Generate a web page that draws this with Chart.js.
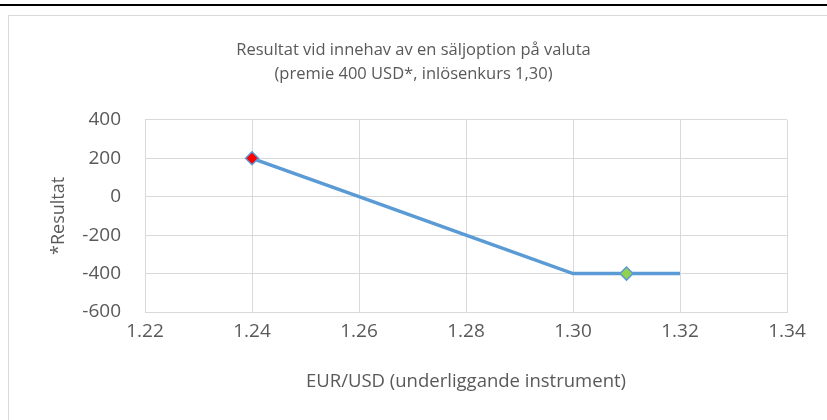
<!DOCTYPE html>
<html>
<head>
<meta charset="utf-8">
<script src="https://cdn.jsdelivr.net/npm/chart.js@4.4.1/dist/chart.umd.min.js"></script>
<style>
  html, body { margin: 0; padding: 0; background: #fff; width: 827px; height: 420px; overflow: hidden; }
  #topline { position: absolute; left: 0; top: 4px; width: 827px; height: 2px; background: #000; }
  #frame { position: absolute; left: 8px; top: 15px; width: 900px; height: 500px; border: 1px solid #d9d9d9; box-sizing: border-box; }
  #wrap { position: absolute; left: 0; top: 0; width: 827px; height: 420px; }
</style>
</head>
<body>
<div id="topline"></div>
<div id="frame"></div>
<div id="wrap"><canvas id="c" width="827" height="420"></canvas></div>
<script>
const titleLines = ["Resultat vid innehav av en säljoption på valuta", "(premie 400 USD*, inlösenkurs 1,30)"];
const xTitle = "EUR/USD (underliggande instrument)";
const yTitle = "*Resultat";
const rates = [1.24, 1.26, 1.28, 1.30, 1.31, 1.32];
const results = [200, 0, -200, -400, -400, -400];
const markerFill = ["#ff0000", null, null, null, "#92d050", null];

const FONT = "'Open Sans', Lato, sans-serif";
const TXT = "#595959";
const GRID = "#d9d9d9";

new Chart(document.getElementById('c'), {
  type: 'scatter',
  data: {
    datasets: [{
      data: rates.map((x, i) => ({x: x, y: results[i]})),
      showLine: true,
      borderColor: '#5b9bd5',
      borderWidth: 3.5,
      tension: 0,
      pointStyle: 'rectRot',
      pointRadius: markerFill.map(f => f ? 6.5 : 0),
      pointHoverRadius: markerFill.map(f => f ? 6.5 : 0),
      pointBackgroundColor: markerFill.map(f => f || '#5b9bd5'),
      pointBorderColor: '#5b9bd5',
      pointBorderWidth: 1.5
    }]
  },
  options: {
    responsive: false,
    animation: false,
    layout: { padding: { left: 8, right: 8, top: 10, bottom: 18 } },
    plugins: {
      legend: { display: false },
      tooltip: { enabled: false },
      title: {
        display: true,
        text: titleLines,
        color: TXT,
        font: { family: FONT, size: 16.5, weight: 'normal', lineHeight: 1.45 },
        padding: { top: 28, bottom: 34 }
      }
    },
    scales: {
      x: {
        type: 'linear',
        min: 1.22, max: 1.34,
        afterFit: s => { s.height = 90; },
        ticks: { stepSize: 0.02, color: TXT, padding: 8, font: { family: FONT, size: 19 },
                 callback: v => Number(v).toFixed(2) },
        grid: { color: GRID, lineWidth: 1, drawTicks: false },
        border: { color: GRID, width: 1 },
        title: { display: true, text: xTitle, color: TXT, font: { family: FONT, size: 18.5 }, padding: { top: 0, bottom: 9 } }
      },
      y: {
        min: -600, max: 400,
        afterFit: s => { s.width = 137; },
        ticks: { stepSize: 200, color: TXT, padding: 24, font: { family: FONT, size: 19 } },
        grid: { color: GRID, lineWidth: 1, drawTicks: false },
        border: { color: GRID, width: 1 },
        title: { display: true, text: yTitle, color: TXT, font: { family: FONT, size: 18 }, padding: { top: 40, bottom: 0 } }
      },
      y2: {
        position: 'right',
        min: -600, max: 400,
        afterFit: s => { s.width = 32; },
        ticks: { display: false },
        grid: { display: false, drawTicks: false },
        border: { display: false },
        title: { display: false }
      }
    }
  }
});
</script>
</body>
</html>
